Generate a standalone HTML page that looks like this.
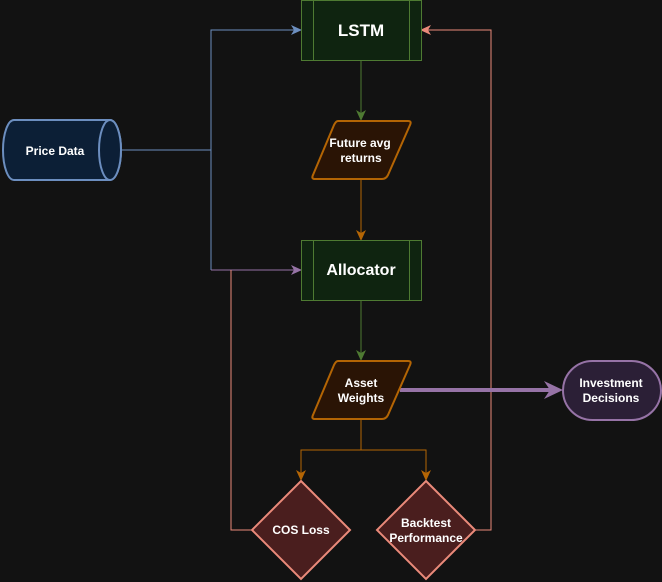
<!DOCTYPE html>
<html><head><meta charset="utf-8"><style>
html,body{margin:0;padding:0;background:#121212;}
svg{display:block;}
text{font-family:"Liberation Sans",Arial,sans-serif;font-weight:bold;fill:#fff;text-anchor:middle;}
</style></head><body>
<svg width="662" height="582" viewBox="0 0 662 582" xmlns="http://www.w3.org/2000/svg">
<rect width="662" height="582" fill="#121212"/>
<g fill="none" stroke-width="1">
<path d="M121 150 H211 V30 H295" stroke="#6c8ebf"/>
<path d="M211 150 V270" stroke="#6c8ebf"/>
<path d="M211 270 H295" stroke="#9673a6"/>
<path d="M361 60 V114" stroke="#4e7a32"/>
<path d="M361 180 V234" stroke="#b46504"/>
<path d="M361 300 V354" stroke="#4e7a32"/>
<path d="M361 420 V450 H301 V474 M361 450 H426 V474" stroke="#b46504"/>
<path d="M251 530 H231 V270" stroke="#ea8a7a"/>
<path d="M476 530 H491 V30 H427" stroke="#ea8a7a"/>
</g>
<path d="M302 30 L291 25 L294 30 L291 35 Z" fill="#6c8ebf"/>
<path d="M302 270 L291 265 L294 270 L291 275 Z" fill="#9673a6"/>
<path d="M361 121 L356 110 L361 113 L366 110 Z" fill="#4e7a32"/>
<path d="M361 241 L356 230 L361 233 L366 230 Z" fill="#b46504"/>
<path d="M361 361 L356 350 L361 353 L366 350 Z" fill="#4e7a32"/>
<path d="M301 481 L296 470 L301 473 L306 470 Z" fill="#b46504"/>
<path d="M426 481 L421 470 L426 473 L431 470 Z" fill="#b46504"/>
<path d="M420 30 L431 25 L428 30 L431 35 Z" fill="#ea8a7a"/>
<path d="M400 390 H552" stroke="#9673a6" stroke-width="4"/>
<path d="M563 390 L544 381 L550 390 L544 399 Z" fill="#9673a6"/>
<path d="M14 120 H110 A11 30 0 0 1 110 180 H14 A11 30 0 0 1 14 120 Z" fill="#0c1f36" stroke="#6c8ebf" stroke-width="2"/>
<ellipse cx="110" cy="150" rx="11" ry="30" fill="#0c1f36" stroke="#6c8ebf" stroke-width="2"/>
<text x="55" y="155" font-size="12">Price Data</text>
<rect x="301.5" y="0.5" width="120" height="60" fill="#0f2410" stroke="#4e7a32"/>
<path d="M313.5 0.5 V60.5 M409.5 0.5 V60.5" stroke="#4e7a32"/>
<text x="361" y="36" font-size="17">LSTM</text>
<rect x="301.5" y="240.5" width="120" height="60" fill="#0f2410" stroke="#4e7a32"/>
<path d="M313.5 240.5 V300.5 M409.5 240.5 V300.5" stroke="#4e7a32"/>
<text x="361" y="275" font-size="16">Allocator</text>
<path d="M338 121 H408 Q412 121 410 125 L388 175 Q386 179 382 179 H315 Q311 179 313 175 L334 125 Q336 121 338 121 Z" fill="#2a1405" stroke="#b46504" stroke-width="2"/>
<text x="360" y="147" font-size="12">Future avg</text>
<text x="361" y="162" font-size="12">returns</text>
<path d="M338 361 H408 Q412 361 410 365 L388 415 Q386 419 382 419 H315 Q311 419 313 415 L334 365 Q336 361 338 361 Z" fill="#2a1405" stroke="#b46504" stroke-width="2"/>
<text x="361" y="387" font-size="12">Asset</text>
<text x="361" y="402" font-size="12">Weights</text>
<rect x="563" y="361" width="98" height="59" rx="29.5" fill="#2b1f36" stroke="#9673a6" stroke-width="2"/>
<text x="611" y="387" font-size="12">Investment</text>
<text x="611" y="402" font-size="12">Decisions</text>
<path d="M301 481 L350 530 L301 579 L252 530 Z" fill="#4a1e1e" stroke="#ea8a7a" stroke-width="2"/>
<text x="301" y="534" font-size="12">COS Loss</text>
<path d="M426 481 L475 530 L426 579 L377 530 Z" fill="#4a1e1e" stroke="#ea8a7a" stroke-width="2"/>
<text x="426" y="527" font-size="12">Backtest</text>
<text x="426" y="542" font-size="12">Performance</text>
</svg>
</body></html>
